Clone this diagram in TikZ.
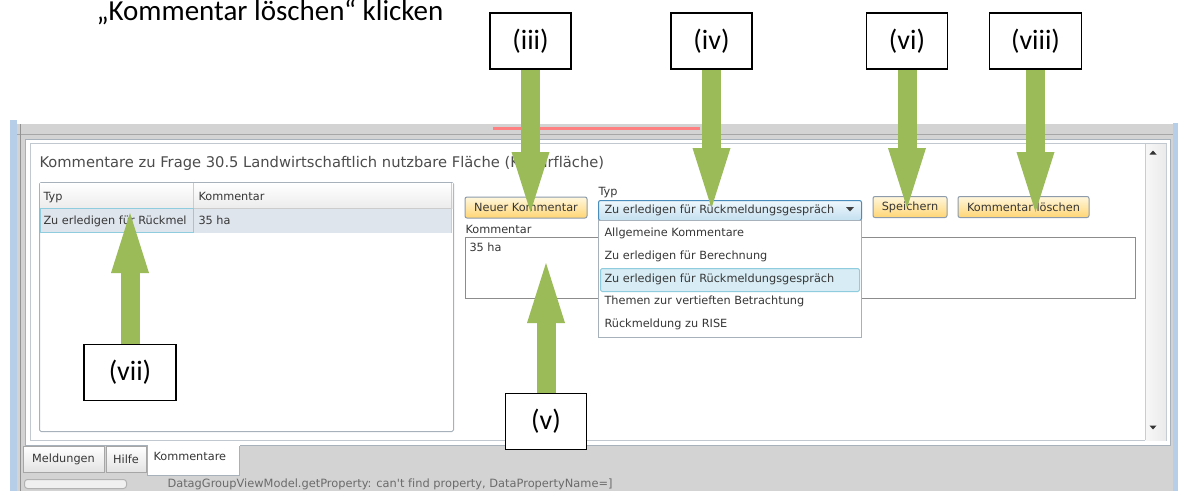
\documentclass[tikz,border=0pt]{standalone}
\usepackage{fontspec}
\setmainfont{Carlito}
\newfontfamily\uifont[Ligatures=NoCommon]{DejaVu Sans}
\usepackage{tikz}
\usetikzlibrary{arrows.meta}
\usetikzlibrary{positioning}

\definecolor{markgreen}{HTML}{9BBB59}
\definecolor{frameblue}{HTML}{B7CEE8}
\definecolor{wingrey}{HTML}{D3D3D3}
\definecolor{panelline}{HTML}{A7B1BC}
\definecolor{uitext}{HTML}{363636}
\definecolor{btntop}{HTML}{FFF7DE}
\definecolor{btnbottom}{HTML}{FFD574}
\definecolor{btnline}{HTML}{8D9BAB}
\definecolor{combotop}{HTML}{EEF7FC}
\definecolor{combobottom}{HTML}{C4E0F0}
\definecolor{comboline}{HTML}{4A8CBB}
\definecolor{rowsel}{HTML}{DFE5ED}
\definecolor{itemsel}{HTML}{D7ECF4}
\definecolor{cellline}{HTML}{8FCCDD}

\tikzset{
    every node/.style={font=\uifont\fontsize{11.3}{13.5}\selectfont, text=uitext},
    label box/.style={draw=black, line width=1.6pt, fill=white, inner sep=0pt,
        minimum width=81pt, minimum height=56pt, text=black,
        font=\rmfamily\fontsize{28}{32}\selectfont},
    ui text/.style={anchor=base west, inner sep=0pt},
    button/.style={draw=btnline, rounded corners=2pt, top color=btntop,
        bottom color=btnbottom, inner sep=0pt, minimum height=21pt},
    tab node/.style={draw=gray!70, top color=white, bottom color=gray!22,
        inner sep=0pt, minimum height=26pt},
    pointer/.style={draw=markgreen, line width=19pt,
        -{Triangle[width=38pt, length=60pt, line width=0pt]}}
}

\begin{document}
\begin{tikzpicture}[
            x = 1pt, % one unit per screen pixel
            y = -1pt, % rows count downwards
            line width = 1pt
        ]
        \useasboundingbox[fill=white] (0,0) rectangle (1178,491);

        \node[ui text, font=\rmfamily\fontsize{29}{34}\selectfont, text=black] (hint) at (96,20.5)
            {„Kommentar löschen“ klicken};

        % window frame and grey client area
        \fill[frameblue] (10,120) rectangle (17,491);
        \fill[frameblue] (1173,123) rectangle (1178,491);
        \fill[wingrey] (17,123) rectangle (1173,491);
        \draw[white] (17,123.5) -- (1173,123.5);
        \draw[gray!70] (17,134.5) -- (1173,134.5);
        \draw[gray!85] (20.5,124) -- (20.5,491);
        \draw[line width=3pt, red!50] (493,128.5) -- (700,128.5);

        % comments panel with scroll bar
        \draw[panelline, fill=white] (25.5,139.5) rectangle (1170.5,445.5);
        \draw[panelline!70] (30.5,143.5) rectangle (1166.5,440.5);
        \shade[left color=gray!6, right color=gray!16] (1145,144) rectangle (1166,440);
        \draw[gray!40] (1145.5,144) -- (1145.5,440);
        \fill[black!80] (1149.5,154.5) -- (1156.5,154.5) -- (1153,150.5) -- cycle;
        \fill[black!80] (1149.5,425.5) -- (1156.5,425.5) -- (1153,429.5) -- cycle;

        \node[ui text, font=\uifont\fontsize{14.7}{17}\selectfont, text=black!70] (title) at (39,167)
            {Kommentare zu Frage 30.5 Landwirtschaftlich nutzbare Fläche (Kulturfläche)};

        % list of stored comments
        \draw[panelline, fill=white, rounded corners=1.5pt] (39.5,182.5) rectangle (453.5,431.5);
        \shade[top color=white, bottom color=gray!15] (40,183) rectangle (453,208);
        \fill[rowsel] (40,208) rectangle (451,233);
        \draw[gray!40] (40,208) -- (451,208);
        \draw[gray!40] (193,183) -- (193,233) (451,183) -- (451,233);
        \draw[cellline] (40,208.5) rectangle (193,232.5);
        \node[ui text] (hdtype) at (43,200) {Typ};
        \node[ui text] (hdnote) at (198,200) {Kommentar};
        \node[ui text] (celltype) at (43,224) {Zu erledigen für Rückmel};
        \node[ui text] (cellnote) at (198,224) {35 ha};

        % editor: buttons, type selector, text field
        \node[button, minimum width=122pt] (btnnew) at (526,207.5) {Neuer Kommentar};
        \node[ui text] (typelabel) at (598,195) {Typ};
        \draw[comboline, rounded corners=2pt, top color=combotop, bottom color=combobottom]
            (598.5,200.5) rectangle (861.5,220.5);
        \node[ui text] (combotext) at (604,213) {Zu erledigen für Rückmeldungsgespräch};
        \fill[black!75] (846,207) -- (854,207) -- (850,211.5) -- cycle;
        \node[button, minimum width=74pt] (btnsave) at (910,207) {Speichern};
        \node[button, minimum width=131pt] (btndel) at (1023.5,207) {Kommentar löschen};
        \node[ui text] (notelabel) at (465,233) {Kommentar};
        \draw[black!45, fill=white] (465.5,237.5) rectangle (1135.5,298.5);
        \node[ui text] (notevalue) at (469,251) {35 ha};

        % opened drop-down list
        \draw[panelline, fill=white] (598.5,220.5) rectangle (861.5,337.5);
        \draw[cellline, fill=itemsel, rounded corners=1.5pt] (600.5,268.5) rectangle (859.5,291.5);
        \foreach \entry [count=\i] in {Allgemeine Kommentare, Zu erledigen für Berechnung,
                Zu erledigen für Rückmeldungsgespräch, Themen zur vertieften Betrachtung,
                Rückmeldung zu RISE}
            \node[ui text] (item\i) at (604,{213.7+22.8*\i}) {\entry};

        % tabs and status line
        \node[tab node, minimum width=81pt] (tabmsg) at (63.5,459) {Meldungen};
        \node[tab node, minimum width=40pt] (tabhelp) at (126,459) {Hilfe};
        \fill[white] (147.5,444) rectangle (239.5,475.5);
        \draw[panelline] (147.5,445.5) -- (147.5,475.5) -- (239.5,475.5) -- (239.5,445.5);
        \node[ui text] (tabnotes) at (153,460) {Kommentare};
        \draw[gray!60, fill=gray!12, rounded corners=3pt] (24.5,479.5) rectangle (126.5,488.5);
        \node[ui text, font=\uifont\fontsize{11.4}{13}\selectfont, text=black!58] (status) at (167,487)
            {DatagGroupViewModel.getProperty: can't find property, DataPropertyName=]};

        % call-outs
        \node[label box] (l3) at (530.5,41) {(iii)};
        \node[label box] [right of=l3, node distance=181pt] (l4) {(iv)};
        \node[label box] [right of=l4, node distance=195.5pt] (l6) {(vi)};
        \node[label box, minimum width=92pt] [right of=l6, node distance=128.5pt] (l8) {(viii)};
        \node[label box, minimum width=92pt] (l7) at (130,372.5) {(vii)};
        \node[label box] (l5) at (546,421.5) {(v)};

        \coordinate (t3) at (530.5,212);
        \coordinate (t4) at (711.5,208);
        \coordinate (t6) at (907,208);
        \coordinate (t8) at (1035.5,212);
        \coordinate (t7) at (130,213);
        \coordinate (t5) at (546,263);

        \draw[pointer] (l3) -- (t3);
        \draw[pointer] (l4) -- (t4);
        \draw[pointer] (l6) -- (t6);
        \draw[pointer] (l8) -- (t8);
        \draw[pointer] (l7) -- (t7);
        \draw[pointer] (l5) -- (t5);

\end{tikzpicture}
\end{document}
